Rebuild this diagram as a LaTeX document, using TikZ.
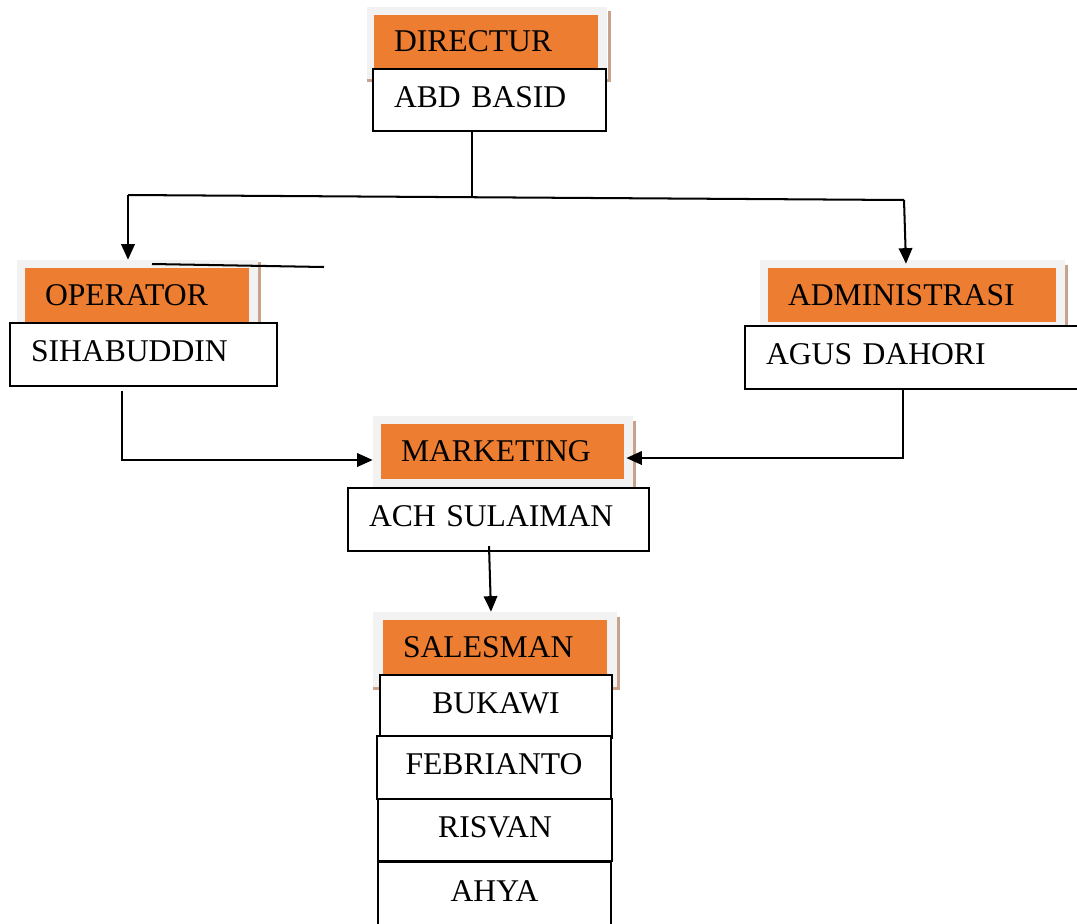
\documentclass[tikz,border=0pt]{standalone}
\usepackage{fontspec}
\setmainfont{Liberation Serif}
\usetikzlibrary{arrows.meta,positioning,calc}
\definecolor{orangebox}{HTML}{ED7D31}
\definecolor{backgray}{HTML}{F2F2F2}
\definecolor{edgebrown}{HTML}{C9A28C}
\tikzset{
    backbox/.style={
        fill=backgray,
        draw=none,
        inner sep=0pt
    },
    titlebox/.style={
        fill=orangebox,
        draw=none,
        font=\fontsize{18}{20}\selectfont,
        align=left,
        inner xsep=0.4cm,
        inner ysep=0pt
    },
    namebox/.style={
        fill=white,
        draw=black,
        line width=1.1pt,
        font=\fontsize{18}{20}\selectfont,
        inner xsep=0.42cm,
        inner ysep=0pt,
        text depth=0.12cm
    },
    edgeline/.style={
        edgebrown,
        line width=1.6pt
    },
    arrow/.style={
        -{Triangle[length=3.1mm,width=2.7mm]},
        line width=1.15pt
    },
    link/.style={
        line width=1.15pt
    }
}

\begin{document}
\begin{tikzpicture}

    \useasboundingbox (0,0) rectangle (21.54,-18.46);

    % Directeur
    \node[backbox, minimum width=4.8cm, minimum height=1.46cm]
        (dirback) at (9.74,-0.87) {};
    \draw[edgeline]
        ($(dirback.north east)+(0.04,-0.08)$) -- ($(dirback.south east)+(0.04,0)$)
        -- (dirback.south west);
    \node[titlebox, text width=3.68cm, minimum height=1.06cm]
        (dirtitle) at (9.72,-0.83) {DIRECTUR};
    \node[namebox, align=left, text width=3.82cm, minimum height=1.24cm]
        (dirname) at (9.79,-2.0) {ABD BASID};

    % Operator
    \node[backbox, minimum width=4.82cm, minimum height=1.26cm]
        (opback) at (2.75,-5.83) {};
    \draw[edgeline]
        ($(opback.north east)+(0.03,-0.05)$) -- ($(opback.south east)+(0.03,0)$);
    \node[titlebox, text width=3.68cm, minimum height=1.08cm]
        (optitle) at (2.74,-5.9) {OPERATOR};
    \node[namebox, align=left, text width=4.5cm, minimum height=1.26cm]
        (opname) at (2.87,-7.09) {SIHABUDDIN};

    % Administrasi
    \node[backbox, minimum width=6.1cm, minimum height=1.32cm]
        (adback) at (18.25,-5.86) {};
    \draw[edgeline]
        ($(adback.north east)+(0.03,-0.1)$) -- ($(adback.south east)+(0.03,0)$);
    \node[titlebox, text width=4.96cm, minimum height=1.08cm]
        (adtitle) at (18.24,-5.9) {ADMINISTRASI};
    \node[namebox, align=left, text width=5.9cm, minimum height=1.26cm]
        (adname) at (18.27,-7.15) {AGUS DAHORI};

    % Marketing
    \node[backbox, minimum width=5.2cm, minimum height=1.46cm]
        (mkback) at (10.06,-9.05) {};
    \draw[edgeline]
        ($(mkback.north east)+(0.03,-0.1)$) -- ($(mkback.south east)+(0.03,0)$);
    \node[titlebox, text width=4.06cm, minimum height=1.1cm]
        (mktitle) at (10.05,-9.03) {MARKETING};
    \node[namebox, align=left, text width=5.18cm, minimum height=1.26cm]
        (mkname) at (9.97,-10.39) {ACH SULAIMAN};

    % Salesman
    \node[backbox, minimum width=4.88cm, minimum height=1.52cm]
        (saback) at (9.9,-13.0) {};
    \draw[edgeline]
        ($(saback.north east)+(0.03,-0.1)$) -- ($(saback.south east)+(0.03,0)$)
        -- (saback.south west);
    \node[titlebox, text width=3.68cm, minimum height=1.1cm]
        (satitle) at (9.9,-12.95) {SALESMAN};
    \node[namebox, align=center, minimum width=4.64cm, minimum height=1.26cm]
        (bukawi) at (9.92,-14.13) {BUKAWI};
    \node[namebox, align=center, minimum width=4.68cm, minimum height=1.26cm]
        (febrianto) at (9.88,-15.35) {FEBRIANTO};
    \node[namebox, align=center, minimum width=4.68cm, minimum height=1.24cm]
        (risvan) at (9.9,-16.6) {RISVAN};
    \node[namebox, align=center, minimum width=4.66cm, minimum height=1.28cm]
        (ahya) at (9.89,-17.88) {AHYA};

    % Points de jonction
    \coordinate (split) at (9.44,-3.94);
    \coordinate (brleft) at (2.56,-3.9);
    \coordinate (brright) at (18.08,-4.0);
    \coordinate (opdrop) at (2.44,-7.82);
    \coordinate (opturn) at (2.44,-9.2);
    \coordinate (addrop) at (18.06,-7.8);
    \coordinate (adturn) at (18.06,-9.16);
    \coordinate (mkdrop) at (9.78,-10.92);
    \coordinate (strayA) at (3.04,-5.28);
    \coordinate (strayB) at (6.48,-5.34);

    % Liaisons
    \draw[link] (dirname.south -| split) -- (split);
    \draw[link] (brleft) -- (brright);
    \draw[arrow] (brleft) -- (brleft |- opback.north);
    \draw[arrow] (brright) -- ($(brright |- adback.north)+(0.04,-0.08)$);
    \draw[arrow] (opdrop) -- (opturn) -- (opturn -| mkback.west);
    \draw[arrow] (addrop) -- (adturn) -- ($(adturn -| mktitle.east)+(0.04,0)$);
    \draw[arrow] (mkdrop) -- ($(mkdrop |- saback.north)+(0.04,0)$);

    % Trait isole
    \draw[link] (strayA) -- (strayB);

\end{tikzpicture}
\end{document}
